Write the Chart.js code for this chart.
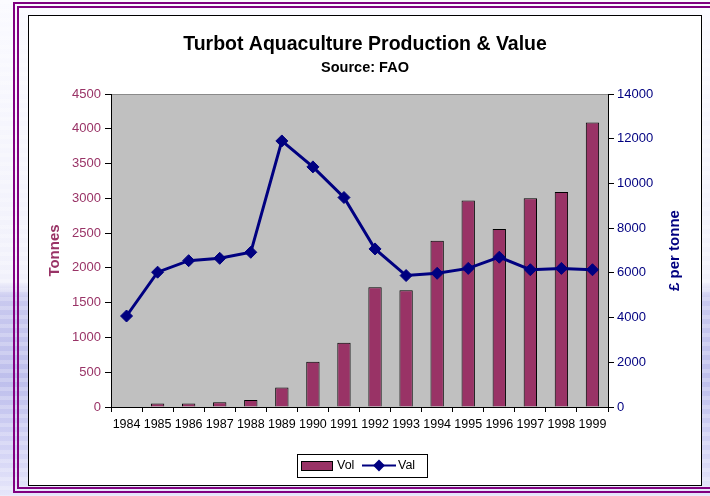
<!DOCTYPE html>
<html>
<head>
<meta charset="utf-8">
<script src="https://cdn.jsdelivr.net/npm/chart.js@4"></script>
<style>
  html, body { margin: 0; padding: 0; width: 710px; height: 496px; overflow: hidden; }
  body {
    position: relative;
    background-color: #fff;
    background-image:
      repeating-linear-gradient(to bottom, rgba(255,255,255,0.22) 0px, rgba(255,255,255,0.22) 4px, rgba(255,255,255,0) 4px, rgba(255,255,255,0) 9px),
      linear-gradient(to bottom, #fafaff 0px, #f1f1fb 282px, #c9c9ef 298px, #bebfec 380px, #d3d3f5 450px, #e6e6fa 496px);
  }
  #frame { position: absolute; left: 13px; top: 2px; width: 720px; height: 491px; border: 6px double #800080; box-sizing: border-box; }
  #box { position: absolute; left: 28px; top: 15px; width: 674px; height: 471px; border: 1px solid #000; background: #fff; box-sizing: border-box; }
  #box canvas { position: absolute; left: 0; top: 0; }
</style>
</head>
<body>
<div id="frame"></div>
<div id="box"><canvas id="turbot" width="672" height="469"></canvas></div>
<script>
// data
let years = ['1984','1985','1986','1987','1988','1989','1990','1991','1992','1993','1994','1995','1996','1997','1998','1999'];
let volTonnes = [0, 50, 50, 70, 100, 280, 650, 925, 1720, 1680, 2390, 2970, 2560, 3000, 3090, 4090];
let valPerTonne = [4070, 6030, 6545, 6650, 6920, 11900, 10740, 9370, 7070, 5880, 5980, 6200, 6700, 6140, 6200, 6140];

let titleText = 'Turbot Aquaculture Production & Value';
let subText = 'Source: FAO';
let leftTitle = 'Tonnes';
let rightTitle = '£ per tonne';

let volColor = '#993366';
let valColor = '#000080';

Chart.defaults.font.family = '"Liberation Sans", Arial, sans-serif';
Chart.defaults.color = '#000';

// plain numbers, no thousands separator
let plain = (v) => String(v);

// grey plot area
let plotBg = {
  id: 'plotBg',
  beforeDraw(chart) {
    let {ctx, chartArea: a} = chart;
    ctx.save();
    ctx.fillStyle = '#c0c0c0';
    ctx.fillRect(a.left, a.top, a.right - a.left, a.bottom - a.top);
    ctx.strokeStyle = '#8a8a8a';
    ctx.lineWidth = 1;
    ctx.beginPath();
    ctx.moveTo(a.left, a.top + 0.5);
    ctx.lineTo(a.right, a.top + 0.5);
    ctx.stroke();
    ctx.restore();
  }
};

// right axis title (reads bottom-to-top) + legend box
let extras = {
  id: 'extras',
  afterDraw(chart) {
    let ctx = chart.ctx;
    let a = chart.chartArea;
    ctx.save();
    ctx.fillStyle = valColor;
    ctx.font = 'bold 15px "Liberation Sans", Arial, sans-serif';
    ctx.textAlign = 'center';
    ctx.textBaseline = 'middle';
    ctx.translate(646, (a.top + a.bottom) / 2);
    ctx.rotate(-Math.PI / 2);
    ctx.fillText(rightTitle, 0, 0);
    ctx.restore();

    let ds = chart.data.datasets;
    ctx.save();
    ctx.strokeStyle = '#000';
    ctx.lineWidth = 1;
    ctx.strokeRect(268.5, 438.5, 130, 23);
    // bar swatch
    ctx.fillStyle = ds[0].backgroundColor;
    ctx.fillRect(272, 445, 32, 10);
    ctx.strokeRect(272.5, 445.5, 31, 9);
    ctx.fillStyle = '#000';
    ctx.font = '12.5px "Liberation Sans", Arial, sans-serif';
    ctx.textBaseline = 'middle';
    ctx.fillText(ds[0].label, 308, 450);
    // line swatch
    ctx.strokeStyle = ds[1].borderColor;
    ctx.lineWidth = 2;
    ctx.beginPath();
    ctx.moveTo(333, 449.5);
    ctx.lineTo(367, 449.5);
    ctx.stroke();
    ctx.fillStyle = ds[1].borderColor;
    Chart.helpers.drawPoint(ctx, {pointStyle: 'rectRot', radius: 4.5, borderWidth: 1}, 350, 449.5);
    ctx.fillStyle = '#000';
    ctx.fillText(ds[1].label, 369, 450);
    ctx.restore();
  }
};

new Chart(document.getElementById('turbot'), {
  data: {
    labels: years,
    datasets: [
      {
        type: 'bar',
        label: 'Vol',
        data: volTonnes,
        yAxisID: 'y',
        backgroundColor: volColor,
        borderColor: '#000',
        borderWidth: 1,
        barPercentage: 0.43,
        categoryPercentage: 1,
        order: 1
      },
      {
        type: 'line',
        label: 'Val',
        data: valPerTonne,
        yAxisID: 'y1',
        borderColor: valColor,
        backgroundColor: valColor,
        borderWidth: 3,
        tension: 0,
        fill: false,
        pointStyle: 'rectRot',
        pointRadius: 6,
        pointBorderWidth: 1,
        pointBackgroundColor: valColor,
        pointBorderColor: valColor,
        order: 0
      }
    ]
  },
  options: {
    responsive: false,
    animation: false,
    layout: { padding: { left: 0, right: 0, top: 0, bottom: 48 } },
    plugins: {
      legend: { display: false },
      tooltip: { enabled: false },
      title: {
        display: true,
        text: titleText,
        color: '#000',
        font: { size: 19.5, weight: 'bold' },
        padding: { top: 17.3, bottom: 0 }
      },
      subtitle: {
        display: true,
        text: subText,
        color: '#000',
        font: { size: 14.5, weight: 'bold' },
        padding: { top: 2.6, bottom: 17.3 }
      }
    },
    scales: {
      x: {
        type: 'category',
        offset: true,
        grid: { offset: true, drawOnChartArea: false, tickLength: 5, color: '#000' },
        border: { color: '#000', width: 1 },
        ticks: { color: '#000', font: { size: 12.5 }, padding: 5, maxRotation: 0, autoSkip: false },
        afterFit(s) { s.height = 30; }
      },
      y: {
        position: 'left',
        min: 0,
        max: 4500,
        grid: { drawOnChartArea: false, tickLength: 6, color: '#000' },
        border: { color: '#000', width: 1 },
        ticks: { stepSize: 500, color: volColor, font: { size: 13 }, padding: 4, callback: plain },
        title: { display: true, text: leftTitle, color: volColor, font: { size: 15, weight: 'bold' }, padding: { top: 17, bottom: 0 } },
        afterFit(s) { s.width = 82; }
      },
      y1: {
        position: 'right',
        min: 0,
        max: 14000,
        grid: { drawOnChartArea: false, tickLength: 6, color: '#000' },
        border: { color: '#000', width: 1 },
        ticks: { stepSize: 2000, color: valColor, font: { size: 13 }, padding: 3, callback: plain },
        afterFit(s) { s.width = 93; }
      }
    }
  },
  plugins: [plotBg, extras]
});
</script>
</body>
</html>
